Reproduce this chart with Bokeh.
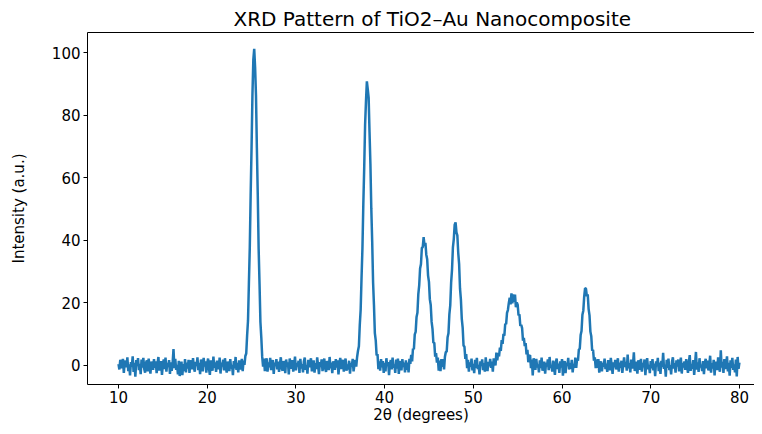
from bokeh.plotting import figure
from bokeh.models import Range1d, FixedTicker, LinearAxis
from bokeh.embed import file_html
from bokeh.resources import INLINE

# 2-theta positions (degrees)
two_theta = [
    10.0, 10.1, 10.2, 10.3, 10.4, 10.5, 10.6, 10.7, 10.8, 10.9,
    11.0, 11.1, 11.2, 11.3, 11.4, 11.5, 11.6, 11.7, 11.8, 11.9,
    12.0, 12.1, 12.2, 12.3, 12.4, 12.5, 12.6, 12.7, 12.8, 12.9,
    13.0, 13.1, 13.2, 13.3, 13.4, 13.5, 13.6, 13.7, 13.8, 13.9,
    14.0, 14.1, 14.2, 14.3, 14.4, 14.5, 14.6, 14.7, 14.8, 14.9,
    15.0, 15.1, 15.2, 15.3, 15.4, 15.5, 15.6, 15.7, 15.8, 15.9,
    16.0, 16.1, 16.2, 16.3, 16.4, 16.5, 16.6, 16.7, 16.8, 16.9,
    17.0, 17.1, 17.2, 17.3, 17.4, 17.5, 17.6, 17.7, 17.8, 17.9,
    18.0, 18.1, 18.2, 18.3, 18.4, 18.5, 18.6, 18.7, 18.8, 18.9,
    19.0, 19.1, 19.2, 19.3, 19.4, 19.5, 19.6, 19.7, 19.8, 19.9,
    20.0, 20.1, 20.2, 20.3, 20.4, 20.5, 20.6, 20.7, 20.8, 20.9,
    21.0, 21.1, 21.2, 21.3, 21.4, 21.5, 21.6, 21.7, 21.8, 21.9,
    22.0, 22.1, 22.2, 22.3, 22.4, 22.5, 22.6, 22.7, 22.8, 22.9,
    23.0, 23.1, 23.2, 23.3, 23.4, 23.5, 23.6, 23.7, 23.8, 23.9,
    24.0, 24.1, 24.2, 24.3, 24.4, 24.5, 24.6, 24.7, 24.8, 24.9,
    25.0, 25.1, 25.2, 25.3, 25.4, 25.5, 25.6, 25.7, 25.8, 25.9,
    26.0, 26.1, 26.2, 26.3, 26.4, 26.5, 26.6, 26.7, 26.8, 26.9,
    27.0, 27.1, 27.2, 27.3, 27.4, 27.5, 27.6, 27.7, 27.8, 27.9,
    28.0, 28.1, 28.2, 28.3, 28.4, 28.5, 28.6, 28.7, 28.8, 28.9,
    29.0, 29.1, 29.2, 29.3, 29.4, 29.5, 29.6, 29.7, 29.8, 29.9,
    30.0, 30.1, 30.2, 30.3, 30.4, 30.5, 30.6, 30.7, 30.8, 30.9,
    31.0, 31.1, 31.2, 31.3, 31.4, 31.5, 31.6, 31.7, 31.8, 31.9,
    32.0, 32.1, 32.2, 32.3, 32.4, 32.5, 32.6, 32.7, 32.8, 32.9,
    33.0, 33.1, 33.2, 33.3, 33.4, 33.5, 33.6, 33.7, 33.8, 33.9,
    34.0, 34.1, 34.2, 34.3, 34.4, 34.5, 34.6, 34.7, 34.8, 34.9,
    35.0, 35.1, 35.2, 35.3, 35.4, 35.5, 35.6, 35.7, 35.8, 35.9,
    36.0, 36.1, 36.2, 36.3, 36.4, 36.5, 36.6, 36.7, 36.8, 36.9,
    37.0, 37.1, 37.2, 37.3, 37.4, 37.5, 37.6, 37.7, 37.8, 37.9,
    38.0, 38.1, 38.2, 38.3, 38.4, 38.5, 38.6, 38.7, 38.8, 38.9,
    39.0, 39.1, 39.2, 39.3, 39.4, 39.5, 39.6, 39.7, 39.8, 39.9,
    40.0, 40.1, 40.2, 40.3, 40.4, 40.5, 40.6, 40.7, 40.8, 40.9,
    41.0, 41.1, 41.2, 41.3, 41.4, 41.5, 41.6, 41.7, 41.8, 41.9,
    42.0, 42.1, 42.2, 42.3, 42.4, 42.5, 42.6, 42.7, 42.8, 42.9,
    43.0, 43.1, 43.2, 43.3, 43.4, 43.5, 43.6, 43.7, 43.8, 43.9,
    44.0, 44.1, 44.2, 44.3, 44.4, 44.5, 44.6, 44.7, 44.8, 44.9,
    45.0, 45.1, 45.2, 45.3, 45.4, 45.5, 45.6, 45.7, 45.8, 45.9,
    46.0, 46.1, 46.2, 46.3, 46.4, 46.5, 46.6, 46.7, 46.8, 46.9,
    47.0, 47.1, 47.2, 47.3, 47.4, 47.5, 47.6, 47.7, 47.8, 47.9,
    48.0, 48.1, 48.2, 48.3, 48.4, 48.5, 48.6, 48.7, 48.8, 48.9,
    49.0, 49.1, 49.2, 49.3, 49.4, 49.5, 49.6, 49.7, 49.8, 49.9,
    50.0, 50.1, 50.2, 50.3, 50.4, 50.5, 50.6, 50.7, 50.8, 50.9,
    51.0, 51.1, 51.2, 51.3, 51.4, 51.5, 51.6, 51.7, 51.8, 51.9,
    52.0, 52.1, 52.2, 52.3, 52.4, 52.5, 52.6, 52.7, 52.8, 52.9,
    53.0, 53.1, 53.2, 53.3, 53.4, 53.5, 53.6, 53.7, 53.8, 53.9,
    54.0, 54.1, 54.2, 54.3, 54.4, 54.5, 54.6, 54.7, 54.8, 54.9,
    55.0, 55.1, 55.2, 55.3, 55.4, 55.5, 55.6, 55.7, 55.8, 55.9,
    56.0, 56.1, 56.2, 56.3, 56.4, 56.5, 56.6, 56.7, 56.8, 56.9,
    57.0, 57.1, 57.2, 57.3, 57.4, 57.5, 57.6, 57.7, 57.8, 57.9,
    58.0, 58.1, 58.2, 58.3, 58.4, 58.5, 58.6, 58.7, 58.8, 58.9,
    59.0, 59.1, 59.2, 59.3, 59.4, 59.5, 59.6, 59.7, 59.8, 59.9,
    60.0, 60.1, 60.2, 60.3, 60.4, 60.5, 60.6, 60.7, 60.8, 60.9,
    61.0, 61.1, 61.2, 61.3, 61.4, 61.5, 61.6, 61.7, 61.8, 61.9,
    62.0, 62.1, 62.2, 62.3, 62.4, 62.5, 62.6, 62.7, 62.8, 62.9,
    63.0, 63.1, 63.2, 63.3, 63.4, 63.5, 63.6, 63.7, 63.8, 63.9,
    64.0, 64.1, 64.2, 64.3, 64.4, 64.5, 64.6, 64.7, 64.8, 64.9,
    65.0, 65.1, 65.2, 65.3, 65.4, 65.5, 65.6, 65.7, 65.8, 65.9,
    66.0, 66.1, 66.2, 66.3, 66.4, 66.5, 66.6, 66.7, 66.8, 66.9,
    67.0, 67.1, 67.2, 67.3, 67.4, 67.5, 67.6, 67.7, 67.8, 67.9,
    68.0, 68.1, 68.2, 68.3, 68.4, 68.5, 68.6, 68.7, 68.8, 68.9,
    69.0, 69.1, 69.2, 69.3, 69.4, 69.5, 69.6, 69.7, 69.8, 69.9,
    70.0, 70.1, 70.2, 70.3, 70.4, 70.5, 70.6, 70.7, 70.8, 70.9,
    71.0, 71.1, 71.2, 71.3, 71.4, 71.5, 71.6, 71.7, 71.8, 71.9,
    72.0, 72.1, 72.2, 72.3, 72.4, 72.5, 72.6, 72.7, 72.8, 72.9,
    73.0, 73.1, 73.2, 73.3, 73.4, 73.5, 73.6, 73.7, 73.8, 73.9,
    74.0, 74.1, 74.2, 74.3, 74.4, 74.5, 74.6, 74.7, 74.8, 74.9,
    75.0, 75.1, 75.2, 75.3, 75.4, 75.5, 75.6, 75.7, 75.8, 75.9,
    76.0, 76.1, 76.2, 76.3, 76.4, 76.5, 76.6, 76.7, 76.8, 76.9,
    77.0, 77.1, 77.2, 77.3, 77.4, 77.5, 77.6, 77.7, 77.8, 77.9,
    78.0, 78.1, 78.2, 78.3, 78.4, 78.5, 78.6, 78.7, 78.8, 78.9,
    79.0, 79.1, 79.2, 79.3, 79.4, 79.5, 79.6, 79.7, 79.8, 79.9,
    80.0,
]

# Intensity (a.u.)
intensity = [
    0.4, -1.3, 1.8, 0.2, -0.9, 2.1, -2.4, 0.7, 1.5, -0.6,
    2.6, -1.8, 0.3, -3.2, 1.1, -0.4, 2.9, -2.1, 0.8, -3.6,
    1.7, -0.2, 2.3, -1.5, 0.5, -2.8, 1.9, -0.7, 2.4, -1.1,
    -2.3, 0.9, 1.6, -1.9, 2.2, -0.3, -2.6, 1.2, 0.1, -1.4,
    2.0, -0.8, 1.3, -2.5, 0.6, 2.7, -1.6, -0.1, 1.4, -3.0,
    0.3, 1.9, -1.2, 2.5, -2.0, 0.8, -0.5, 1.7, -2.7, 1.0,
    -1.7, 0.6, 5.2, -0.9, 2.1, -1.4, 0.2, -2.9, 1.5, -3.4,
    -0.6, 1.2, -3.1, 0.4, -1.8, 2.0, -2.2, 0.9, -1.0, 1.8,
    -2.4, 0.5, 1.6, -1.3, 2.3, -0.7, -2.0, 1.1, -0.2, 2.6,
    -1.5, 0.8, -2.8, 1.9, 0.1, -1.9, 2.4, -0.4, 1.3, -2.3,
    0.7, 2.2, -1.1, -3.0, 1.6, 0.3, -1.7, 2.8, -0.8, 1.0,
    -2.1, 1.5, 0.4, -1.2, 2.5, -2.6, 0.9, -0.3, 1.8, -1.6,
    2.3, -0.5, -2.3, 1.2, 0.6, -1.8, 2.0, -1.0, 0.2, -3.1,
    1.4, -0.9, 2.7, -1.4, 0.8, -2.2, 1.6, 0.0, -1.3, 2.1,
    -1.8, 1.5, 0.2, 3.0, 3.8, 9.6, 14.3, 26.2, 37.7, 54.8,
    69.6, 86.5, 97.7, 101.2, 95.3, 86.3, 69.5, 54.6, 37.2, 26.0,
    13.8, 8.9, 2.8, -0.4, 2.2, -1.8, 0.7, 2.3, -2.0, 1.0,
    -0.6, 2.4, -1.5, 0.3, 1.7, -2.7, 0.9, -0.2, 2.0, -1.3,
    1.2, -2.1, 0.5, 2.6, -0.9, -1.7, 1.4, 0.2, -2.5, 1.9,
    -0.4, 1.0, -2.9, 2.2, 0.6, -1.1, 1.7, -2.0, 0.3, 2.8,
    -1.6, 0.8, -0.3, 1.5, -2.4, 2.1, -1.0, 0.4, -2.2, 1.3,
    2.5, -1.4, 0.1, -2.6, 1.8, -0.6, 0.9, 2.3, -1.9, -0.2,
    1.6, -2.3, 0.7, -1.2, 2.6, 0.0, -2.8, 1.1, -0.5, 1.9,
    -1.8, 0.4, 2.2, -1.0, -2.1, 1.4, 0.6, -1.5, 2.7, -0.9,
    0.9, -2.5, 1.3, 0.2, -1.4, 2.0, -0.7, 1.6, -2.9, 0.5,
    2.4, -1.1, -0.3, 1.8, -2.0, 0.7, 2.2, -1.7, 0.3, -1.3,
    1.5, -2.6, 0.8, -0.4, 2.1, -1.9, 0.3, 1.7, -0.4, 2.7,
    4.7, 6.1, 12.9, 17.8, 28.1, 37.4, 51.5, 63.2, 76.9, 84.4,
    90.8, 88.3, 85.6, 74.6, 64.4, 50.1, 39.7, 26.6, 19.3, 10.3,
    8.0, 3.2, 3.6, -1.2, 1.3, -1.7, 2.0, -0.6, 1.4, -2.4,
    0.8, -1.9, 2.3, -0.2, 1.1, -3.1, 0.6, 1.7, -1.3, 2.5,
    -0.7, 0.3, -2.4, 1.9, -1.0, 2.2, -2.7, 0.5, 1.4, -1.6,
    2.0, -0.5, 0.9, -2.2, 1.6, -1.4, 0.9, -2.2, 2.1, 0.5,
    3.4, 1.3, 5.4, 5.2, 9.9, 10.7, 15.5, 16.8, 22.8, 25.6,
    31.0, 32.4, 37.6, 37.8, 41.0, 38.2, 39.2, 35.4, 33.9, 28.7,
    26.7, 21.1, 19.3, 13.9, 11.7, 7.2, 7.3, 2.8, 3.9, 0.9,
    2.5, -1.7, 1.5, -1.8, 2.0, -0.5, 2.0, -1.3, 2.8, 4.3,
    4.4, 9.0, 10.3, 16.3, 19.2, 26.5, 30.6, 37.7, 40.4, 45.0,
    45.7, 42.5, 41.6, 36.0, 32.4, 24.6, 21.1, 14.9, 12.1, 6.3,
    6.0, 2.1, 3.6, -0.9, 1.8, -2.0, 1.0, -0.4, 2.2, -1.6,
    0.5, -2.5, 1.8, -0.8, 2.4, -1.2, 0.2, -2.9, 1.3, -0.1,
    1.9, -1.5, 0.7, -2.0, 2.6, -0.6, -1.8, 1.1, -0.3, 2.1,
    -0.8, 1.2, -2.0, 2.3, 1.3, 0.0, 4.1, 1.6, 3.9, 2.9,
    5.7, 4.6, 8.1, 6.9, 10.1, 9.5, 13.4, 13.2, 16.8, 17.7,
    19.9, 21.6, 19.5, 23.0, 19.8, 22.7, 20.3, 22.6, 18.6, 20.1,
    19.4, 16.0, 16.3, 12.6, 13.0, 11.9, 7.9, 8.8, 6.2, 7.1,
    3.5, 5.0, 1.0, 2.9, 3.3, -0.9, 1.9, -3.2, 2.3, -0.1,
    -1.4, 2.1, -0.6, 0.3, -2.2, 1.6, -0.9, 2.5, -1.7, 0.4,
    1.2, -2.6, 0.8, -0.3, 1.9, -1.5, 2.7, -0.8, 0.1, -2.0,
    1.5, -0.4, -3.0, 1.0, 2.2, -1.2, 0.6, -2.4, 1.3, -0.7,
    2.0, -3.3, 0.3, 1.4, -2.5, 0.9, -0.2, 2.4, -1.3, 0.7,
    -1.1, 1.8, -2.2, 0.5, -0.8, 2.5, -0.8, 2.2, 1.5, 5.1,
    5.3, 9.7, 11.0, 16.2, 17.5, 22.0, 24.7, 24.5, 22.1, 22.7,
    18.0, 16.0, 10.8, 9.3, 4.7, 5.0, 1.5, 2.6, -0.9, 1.9,
    -0.8, 2.0, -2.3, 0.5, 1.3, -1.9, 0.8, -0.4, 2.2, -1.2,
    0.6, -2.1, 1.7, -0.3, -1.5, 2.4, 0.1, -2.7, 1.0, -0.6,
    1.8, -1.3, 0.4, 2.3, -2.0, 0.9, -0.8, 1.5, -2.4, 0.2,
    2.6, -0.5, 1.1, -1.7, 3.5, -0.9, 0.7, -2.2, 1.9, -1.0,
    0.3, 4.2, -1.8, 1.2, -0.2, -2.6, 1.6, 0.5, -1.4, 2.1,
    -2.0, 0.8, -0.6, 1.9, -3.1, 1.0, 2.3, -1.2, 0.2, -2.5,
    1.4, -0.9, 2.0, -1.6, 0.6, -3.4, 1.3, -0.3, 2.4, -1.8,
    0.9, -2.7, 1.5, -0.5, 4.0, -1.1, 0.3, -3.6, 1.8, -0.8,
    2.2, -1.5, 0.1, -2.9, 1.2, 2.6, -1.0, 0.7, -2.3, 1.6,
    -0.4, 1.9, -1.9, 0.5, 2.5, -2.6, 0.8, -0.7, 1.3, -1.4,
    2.0, -0.2, -2.4, 1.1, 3.3, -1.7, 0.4, -1.1, 1.7, -3.0,
    0.6, 4.3, -1.3, 1.0, -2.1, 2.3, -0.6, 0.2, -1.8, 1.4,
    -2.8, 0.9, 2.1, -0.9, 1.5, -1.6, 0.0, 3.1, -2.3, 0.7,
    -1.0, 1.8, -3.2, 1.2, 0.4, -1.5, 2.6, -0.3, -2.0, 4.8,
    -0.7, 1.1, -2.4, 2.0, -1.2, 0.5, 2.9, -1.9, 0.8, -3.3,
    1.6, -0.8, 2.4, -1.4, 0.3, -2.2, 1.9, -3.5, 2.7, -1.1,
    0.9,
]

x_ticks = [10, 20, 30, 40, 50, 60, 70, 80]
y_ticks = [0, 20, 40, 60, 80, 100]

FONT = "DejaVu Sans"

p = figure(
    width=754, height=426,
    output_backend="svg", toolbar_location=None,
    x_range=Range1d(6.505, 81.7), y_range=Range1d(-6.1, 106.4),
    min_border_left=87, min_border_right=0, min_border_top=32, min_border_bottom=38,
    title="XRD Pattern of TiO2\u2013Au Nanocomposite",
)
p.background_fill_color = "white"
p.border_fill_color = "white"
p.outline_line_color = None
p.xgrid.visible = False
p.ygrid.visible = False

p.title.text_font = FONT
p.title.text_font_size = "20px"
p.title.text_font_style = "normal"
p.title.text_color = "black"
p.title.align = "left"
p.title.offset = 146
p.title.standoff = 4

p.line(two_theta, intensity, line_color="#1f77b4", line_width=2.5)

for ax in (p.xaxis[0], p.yaxis[0]):
    ax.axis_line_color = "black"
    ax.axis_line_width = 1
    ax.major_tick_line_color = "black"
    ax.major_tick_out = 4
    ax.major_tick_in = 0
    ax.minor_tick_line_color = None
    ax.major_label_text_font = FONT
    ax.major_label_text_font_size = "15px"
    ax.major_label_text_color = "black"
    ax.major_label_standoff = 3
    ax.axis_label_text_font = FONT
    ax.axis_label_text_font_size = "15px"
    ax.axis_label_text_font_style = "normal"
    ax.axis_label_text_color = "black"

p.xaxis[0].ticker = FixedTicker(ticks=x_ticks)
p.yaxis[0].ticker = FixedTicker(ticks=y_ticks)
p.xaxis[0].axis_label = "2\u03b8 (degrees)"
p.yaxis[0].axis_label = "Intensity (a.u.)"
p.xaxis[0].axis_label_standoff = 0
p.xaxis[0].major_label_standoff = 2
p.yaxis[0].axis_label_standoff = 21

top = LinearAxis(ticker=FixedTicker(ticks=[]))
top.axis_line_color = "black"
top.major_tick_line_color = None
top.minor_tick_line_color = None
top.major_label_text_font_size = "0px"
p.add_layout(top, "above")

open("out.html", "w").write(file_html(p, INLINE))
